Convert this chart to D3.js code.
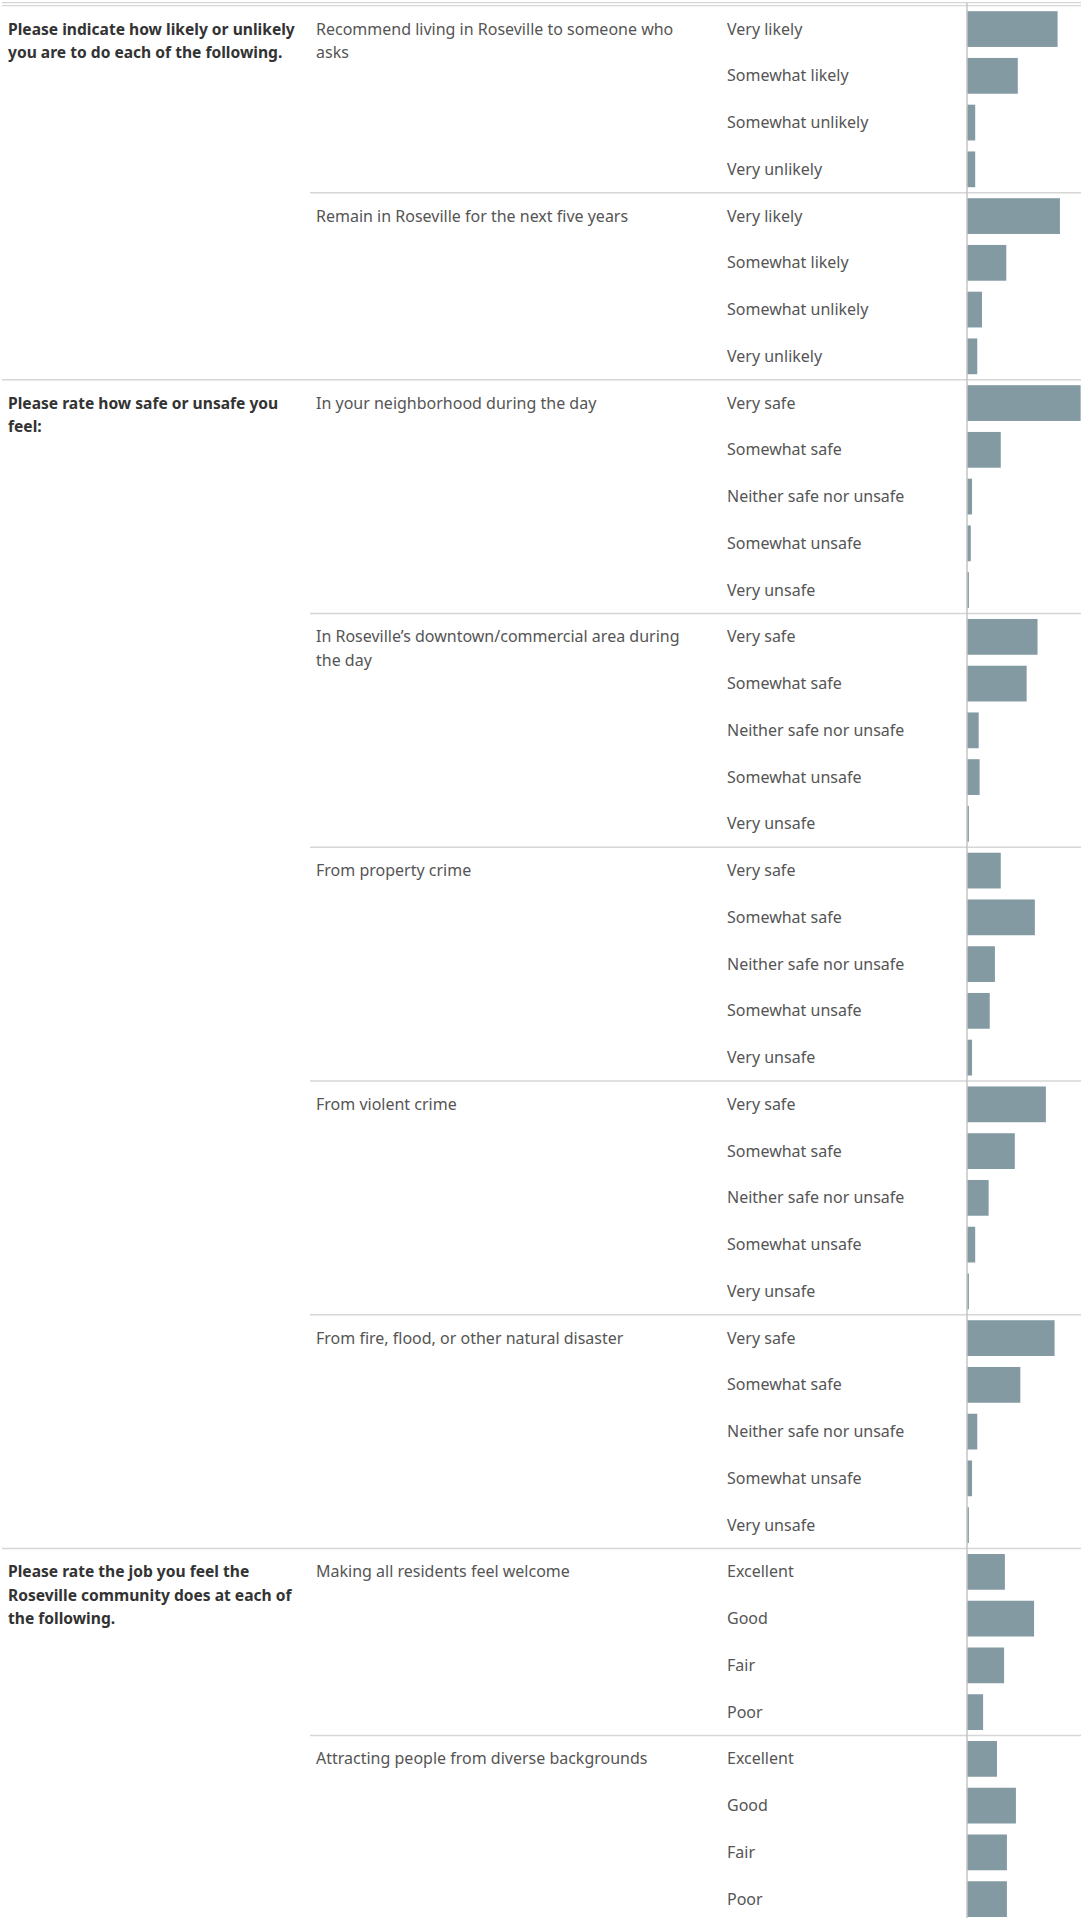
<!DOCTYPE html>
<html>
<head>
<meta charset="utf-8">
<script src="https://cdn.jsdelivr.net/npm/d3@7"></script>
<style>
  body { margin: 0; background: #fff; }
  text { font-family: "Noto Sans", sans-serif; }
</style>
</head>
<body>
<div id="chart"></div>
<script>
// questions (left column), one line per array entry
var questions = [
  ["Please indicate how likely or unlikely", "you are to do each of the following."],
  ["Please rate how safe or unsafe you", "feel:"],
  ["Please rate the job you feel the", "Roseville community does at each of", "the following."]
];

// answer scales used by each question
var likelyScale = ["Very likely", "Somewhat likely", "Somewhat unlikely", "Very unlikely"];
var safeScale = ["Very safe", "Somewhat safe", "Neither safe nor unsafe", "Somewhat unsafe", "Very unsafe"];
var jobScale = ["Excellent", "Good", "Fair", "Poor"];
var answerScales = [likelyScale, safeScale, jobScale];

// items (middle column) and the question each belongs to
var items = [
  ["Recommend living in Roseville to someone who", "asks"],
  ["Remain in Roseville for the next five years"],
  ["In your neighborhood during the day"],
  ["In Roseville\u2019s downtown/commercial area during", "the day"],
  ["From property crime"],
  ["From violent crime"],
  ["From fire, flood, or other natural disaster"],
  ["Making all residents feel welcome"],
  ["Attracting people from diverse backgrounds"]
];
var itemQuestion = [0, 0, 1, 1, 1, 1, 1, 2, 2];

// percent of respondents, in answer-scale order
var values = [
  [57.4, 32.2, 5.2, 5.2],
  [58.9, 24.9, 9.5, 6.5],
  [72.0, 21.4, 3.2, 2.4, 1.2],
  [44.7, 37.8, 7.4, 8.0, 1.2],
  [21.4, 43.0, 17.7, 14.4, 3.2],
  [50.0, 30.3, 13.7, 5.2, 1.2],
  [55.5, 33.8, 6.5, 3.2, 1.2],
  [24.0, 42.5, 23.5, 10.2],
  [19.0, 31.0, 25.3, 25.3]
];

var width = 1081, height = 1923;
var gridTop = 5.7, gridBottom = 1922.5;
var col1 = 8, col2 = 316, col3 = 727, axisX = 967;
var lineH = 23.3;

// flatten into one row per bar
var rows = [];
items.forEach(function(item, i) {
  var q = itemQuestion[i];
  answerScales[q].forEach(function(a, j) {
    rows.push({ q: q, item: i, answer: a, value: values[i][j], first: j == 0 });
  });
});

var svg = d3.select("#chart")
  .append("svg")
    .attr("width", width)
    .attr("height", height);

var y = d3.scaleBand()
  .domain(d3.range(rows.length))
  .range([gridTop, gridBottom])
  .paddingInner(0.235)
  .paddingOuter(0.1175);

var x = d3.scaleLinear()
  .domain([0, 100])
  .range([axisX, axisX + 157.8]);

var step = y.step();
function rowTop(i) { return gridTop + i * step; }
function rowMid(i) { return y(i) + y.bandwidth() / 2; }

// top border lines
svg.selectAll(".topline")
  .data([2.7, 5.7])
  .enter().append("line")
    .attr("x1", 2).attr("x2", width)
    .attr("y1", function(d) { return d; })
    .attr("y2", function(d) { return d; })
    .attr("stroke", "#d6d6d6")
    .attr("stroke-width", 1.3);

// separators between items (partial) and between questions (full)
var seps = [];
rows.forEach(function(r, i) {
  if (i > 0 && r.first) {
    seps.push({ y: rowTop(i), full: rows[i - 1].q != r.q });
  }
});
svg.selectAll(".sep")
  .data(seps)
  .enter().append("line")
    .attr("x1", function(d) { return d.full ? 2 : 310; })
    .attr("x2", width)
    .attr("y1", function(d) { return d.y; })
    .attr("y2", function(d) { return d.y; })
    .attr("stroke", "#d6d6d6")
    .attr("stroke-width", 1.5);

// bars
svg.selectAll(".bar")
  .data(rows)
  .enter().append("rect")
    .attr("x", x(0))
    .attr("y", function(d, i) { return y(i); })
    .attr("width", function(d) { return x(d.value) - x(0); })
    .attr("height", y.bandwidth())
    .attr("fill", "#849aa3");

// zero axis line
svg.append("line")
  .attr("x1", axisX).attr("x2", axisX)
  .attr("y1", 2.7).attr("y2", y(rows.length - 1) + y.bandwidth() + 1)
  .attr("stroke", "#c4c4c4")
  .attr("stroke-width", 1.5);

// answer labels
svg.selectAll(".answer")
  .data(rows)
  .enter().append("text")
    .attr("x", col3)
    .attr("y", function(d, i) { return rowMid(i); })
    .attr("dy", "0.35em")
    .style("font-size", "16px")
    .style("fill", "#555")
    .text(function(d) { return d.answer; });

// multi-line label helper
function addLines(x0, y0, lines, size, weight, color) {
  svg.append("text")
    .attr("y", y0)
    .style("font-size", size)
    .style("font-weight", weight)
    .style("fill", color)
    .selectAll("tspan")
    .data(lines)
    .enter().append("tspan")
      .attr("x", x0)
      .attr("dy", function(d, j) { return j == 0 ? "0.35em" : lineH + "px"; })
      .text(function(d) { return d; });
}

// item labels
var firstRow = [];
rows.forEach(function(r, i) { if (r.first) firstRow.push(i); });
items.forEach(function(lines, k) {
  addLines(col2, rowMid(firstRow[k]), lines, "16px", "normal", "#555");
});

// question labels
questions.forEach(function(lines, q) {
  var i0 = rows.findIndex(function(r) { return r.q == q; });
  addLines(col1, rowMid(i0), lines, "15.6px", "bold", "#333");
});
</script>
</body>
</html>
